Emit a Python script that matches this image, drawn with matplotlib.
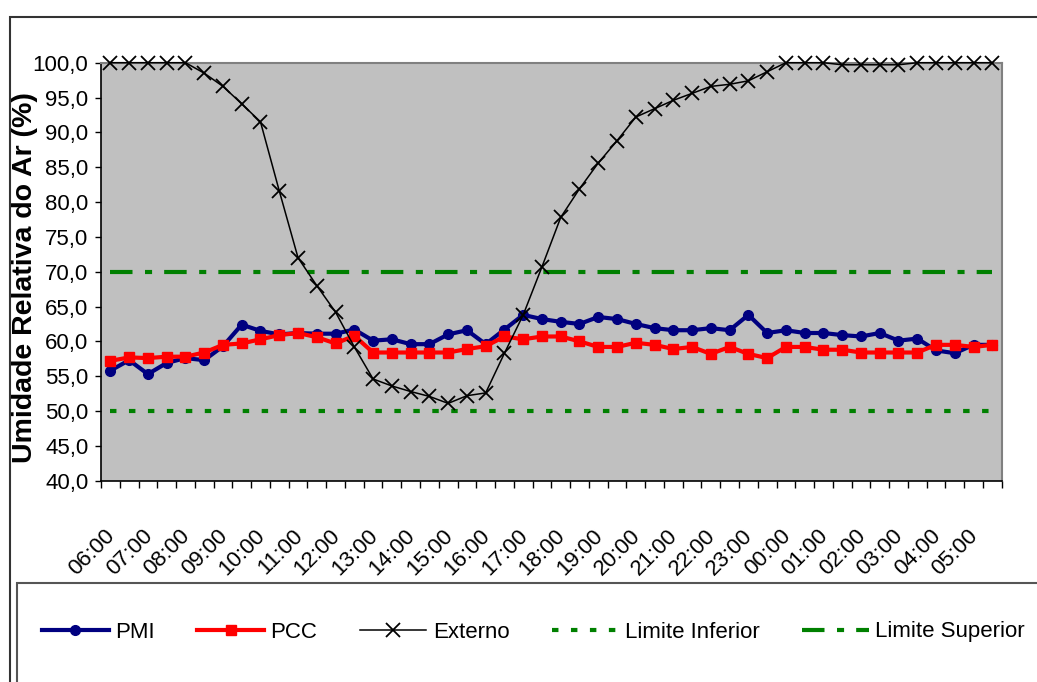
import numpy as np
import matplotlib
matplotlib.use("Agg")
import matplotlib.pyplot as plt
from matplotlib.patches import Rectangle
from matplotlib.transforms import ScaledTranslation

plt.rcParams['font.family'] = ['Liberation Sans', 'DejaVu Sans']

# Horas (rótulos a cada hora, leituras a cada meia hora)
horas = ["06:00", "07:00", "08:00", "09:00", "10:00", "11:00", "12:00", "13:00",
         "14:00", "15:00", "16:00", "17:00", "18:00", "19:00", "20:00", "21:00",
         "22:00", "23:00", "00:00", "01:00", "02:00", "03:00", "04:00", "05:00"]

pmi = [55.8, 57.3, 55.3, 56.9, 57.6, 57.3, 59.3, 62.4, 61.5, 61.0, 61.2, 61.1,
       61.1, 61.7, 60.1, 60.3, 59.6, 59.6, 61.0, 61.6, 59.6, 61.7, 63.8, 63.2,
       62.8, 62.5, 63.5, 63.2, 62.5, 61.9, 61.6, 61.6, 61.9, 61.6, 63.8, 61.2,
       61.6, 61.2, 61.2, 60.9, 60.7, 61.2, 60.1, 60.4, 58.7, 58.3, 59.5, 59.5]

pcc = [57.2, 57.7, 57.6, 57.8, 57.8, 58.4, 59.5, 59.7, 60.3, 60.9, 61.2, 60.6,
       59.7, 60.8, 58.4, 58.4, 58.4, 58.4, 58.4, 58.9, 59.3, 60.7, 60.3, 60.7,
       60.7, 60.0, 59.2, 59.2, 59.8, 59.5, 58.9, 59.2, 58.2, 59.2, 58.2, 57.6,
       59.2, 59.2, 58.8, 58.8, 58.4, 58.4, 58.4, 58.4, 59.5, 59.5, 59.2, 59.5]

externo = [100, 100, 100, 100, 100, 98.5, 96.6, 94.1, 91.5, 81.6, 72.0, 68.0,
           64.2, 59.2, 54.6, 53.6, 52.8, 52.1, 51.1, 52.2, 52.6, 58.3, 63.8, 70.7,
           77.8, 81.9, 85.6, 88.8, 92.2, 93.4, 94.6, 95.6, 96.6, 96.9, 97.4, 98.7,
           100, 100, 100, 99.7, 99.7, 99.7, 99.7, 100, 100, 100, 100, 100]

limite_inferior = 50.0
limite_superior = 70.0

n = len(pmi)
x = np.arange(n)

fig = plt.figure(figsize=(10.37, 6.82), dpi=100)
ax = fig.add_axes([101 / 1037, 1 - 480.7 / 682, 900.7 / 1037, 418 / 682])
ax.set_facecolor('#C0C0C0')

ax.plot(x, pmi, color='#000080', lw=3, marker='o', ms=7, label='PMI', zorder=3)
ax.plot(x, pcc, color='#FF0000', lw=3, marker='s', ms=7, label='PCC', zorder=3)
ax.plot(x, externo, color='black', lw=1.1, marker='x', ms=9.5, mew=1.3,
        label='Externo', zorder=4, clip_on=False)
ax.plot(x, [limite_inferior] * n, color='#008000', lw=3, dashes=(1.55, 3.0),
        dash_capstyle='butt', label='Limite Inferior', zorder=2)
ax.plot(x, [limite_superior] * n, color='#008000', lw=3, dashes=(5.4, 3.0, 1.7, 2.9),
        dash_capstyle='butt', label='Limite Superior', zorder=2)

ax.set_xlim(-0.5, n - 0.5)
ax.set_ylim(40, 100)
ax.set_yticks(np.arange(40, 100.1, 5))
ax.set_yticklabels([f"{v:.1f}".replace('.', ',') for v in np.arange(40, 100.1, 5)],
                   fontsize=16)
ax.tick_params(axis='y', direction='out', length=4, width=1, pad=5)

ax.set_xticks(x[::2])
ax.set_xticklabels(horas, rotation=45, ha='right', rotation_mode='anchor', fontsize=16)
ax.tick_params(axis='x', which='major', length=0, pad=32)
ax.set_xticks(np.arange(-0.5, n, 1), minor=True)
ax.tick_params(axis='x', which='minor', direction='out', length=5, width=1)
shift = ScaledTranslation(-6 / 100, 0, fig.dpi_scale_trans)
for lbl in ax.get_xticklabels():
    lbl.set_transform(lbl.get_transform() + shift)

for s in ['left', 'bottom']:
    ax.spines[s].set_color('black')
    ax.spines[s].set_linewidth(1.2)
for s in ['top', 'right']:
    ax.spines[s].set_color('#808080')
    ax.spines[s].set_linewidth(1.5)

fig.text(25 / 1037, 1 - 278 / 682, 'Umidade Relativa do Ar (%)', rotation=90,
         ha='center', va='center', fontsize=20.5, fontweight='bold')

# moldura externa e caixa da legenda
fig.patches.append(Rectangle((10 / 1037, -0.2), 1.2, 1.2 - 17 / 682,
                             transform=fig.transFigure, fill=False,
                             edgecolor='#333333', lw=1.5))
fig.patches.append(Rectangle((17 / 1037, -0.2), 1.2, 0.2 + 1 - 583 / 682,
                             transform=fig.transFigure, fill=False,
                             edgecolor='#555555', lw=1.5))

fig.legend(loc='center left', bbox_to_anchor=(22 / 1037, 1 - 632 / 682), ncol=5,
           frameon=False, fontsize=16, numpoints=1, handlelength=3.0,
           handletextpad=0.3, columnspacing=1.9)

fig.savefig('out.png', dpi=100)
